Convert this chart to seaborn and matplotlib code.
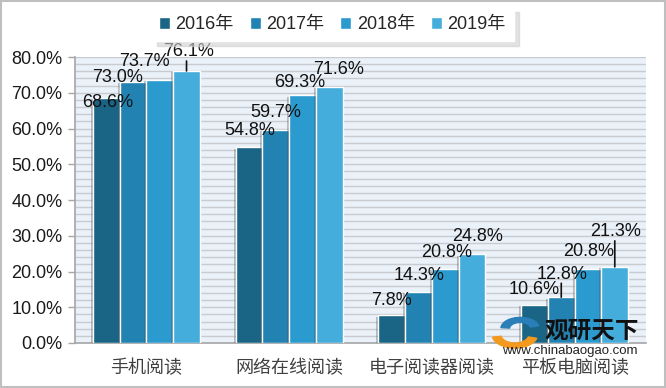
import pandas as pd
import matplotlib.pyplot as plt
import matplotlib.patheffects as pe
from matplotlib.patches import Patch, Wedge
from matplotlib.ticker import MultipleLocator, FuncFormatter
import seaborn as sns

# data
categories = ['手机阅读', '网络在线阅读', '电子阅读器阅读', '平板电脑阅读']
years = ['2016年', '2017年', '2018年', '2019年']
share_2016 = [68.6, 54.8, 7.8, 10.6]
share_2017 = [73.0, 59.7, 14.3, 12.8]
share_2018 = [73.7, 69.3, 20.8, 20.8]
share_2019 = [76.1, 71.6, 24.8, 21.3]

colors = ['#1A6485', '#2283B3', '#2A9ACF', '#45ADDC']

# label offsets (pixels) relative to bar top centre, per year then category
label_offsets = [
    [(1, -5), (1, 17), (0, 15), (0, 16)],
    [(-15, 5), (0, 17), (1, 16), (1, 23)],
    [(-15, 18), (-3, 13), (1, 16), (1, 17)],
    [(2, 19), (9, 18), (6, 18), (1, 35)],
]
# bars that get a short leader line
leaders = {(3, 0), (1, 3), (3, 3)}

sns.set_theme(style='white')
plt.rcParams['font.family'] = ['Liberation Sans', 'Noto Sans CJK SC', 'DejaVu Sans']

rows = []
for year, vals in zip(years, [share_2016, share_2017, share_2018, share_2019]):
    for cat, v in zip(categories, vals):
        rows.append({'category': cat, 'year': year, 'value': v})
df = pd.DataFrame(rows)

fig = plt.figure(figsize=(6.66, 3.88), dpi=100)
ax = fig.add_axes([0.1126, 0.116, 0.970 - 0.1126, 0.853 - 0.116])
ax.set_facecolor('#EAF1F8')

sns.barplot(data=df, x='category', y='value', hue='year', palette=colors,
            saturation=1, width=0.75, edgecolor='white', linewidth=1.0, ax=ax,
            legend=False, zorder=3)

ax.set_ylim(0, 80)
ax.yaxis.set_major_locator(MultipleLocator(10))
ax.yaxis.set_minor_locator(MultipleLocator(2))
ax.yaxis.set_major_formatter(FuncFormatter(lambda v, p: f'{v:.1f}%'))
ax.grid(which='both', axis='y', color='#C8CCD0', linewidth=1.0, zorder=0)
ax.set_axisbelow(True)
ax.tick_params(axis='y', which='major', length=5, width=1, color='#A6A6A6',
               labelsize=13, labelcolor='#1A1A1A', pad=4, left=True)
ax.tick_params(axis='y', which='minor', length=0)
ax.tick_params(axis='x', length=0, labelsize=13, labelcolor='#404040', pad=12)
ax.set_xlabel('')
ax.set_ylabel('')
for side in ['top', 'right']:
    ax.spines[side].set_visible(False)
for side in ['left', 'bottom']:
    ax.spines[side].set_color('#A6A6A6')
    ax.spines[side].set_linewidth(1.2)

shadow = [pe.SimplePatchShadow(offset=(-1.5, -1), shadow_rgbFace='#555555', alpha=0.35),
          pe.Normal()]

for i, container in enumerate(ax.containers):
    for j, bar in enumerate(container):
        bar.set_path_effects(shadow)
        x = bar.get_x() + bar.get_width() / 2
        h = bar.get_height()
        dx, dy = label_offsets[i][j]
        ax.annotate(f'{h:.1f}%', xy=(x, h), xytext=(dx, dy),
                    textcoords='offset pixels', ha='center', va='center',
                    fontsize=13, color='#111111', zorder=5)
        if (i, j) in leaders:
            ax.annotate('', xy=(x, h), xytext=(0, dy - 9),
                        textcoords='offset pixels',
                        arrowprops=dict(arrowstyle='-', color='#111111', lw=1.2,
                                        shrinkA=0, shrinkB=0), zorder=5)

handles = [Patch(facecolor=c, edgecolor='white') for c in colors]
leg = fig.legend(handles, years, loc='center', bbox_to_anchor=(0.499, 0.936),
                 ncol=4, fontsize=13, frameon=True, fancybox=False,
                 shadow={'color': '#D0D0D0', 'alpha': 0.6, 'ox': 4, 'oy': -3},
                 handlelength=0.6, handleheight=0.6, handletextpad=0.3,
                 columnspacing=0.9, borderpad=0.45)
leg.get_frame().set_edgecolor('white')
leg.get_frame().set_facecolor('white')

# watermark
fig.patches.append(Wedge((0.773, 0.137), 0.034, 190, 345, width=0.013,
                         transform=fig.transFigure, color='#F39A1E', zorder=10))
fig.patches.append(Wedge((0.781, 0.153), 0.029, 15, 175, width=0.013,
                         transform=fig.transFigure, color='#2B7FB8', zorder=10))
fig.text(0.888, 0.146, '观研天下', fontsize=17, fontweight='bold', color='#111111',
         ha='center', va='center', zorder=10)
fig.text(0.855, 0.096, 'www.chinabaogao.com', fontsize=9.5, color='#222222',
         ha='center', va='center', zorder=10)

# outer border
fig.patches.append(plt.Rectangle((0.001, 0.002), 0.997, 0.995, transform=fig.transFigure,
                                 fill=False, edgecolor='#BFBFBF', linewidth=1.5))

fig.savefig('out.png', dpi=100)
